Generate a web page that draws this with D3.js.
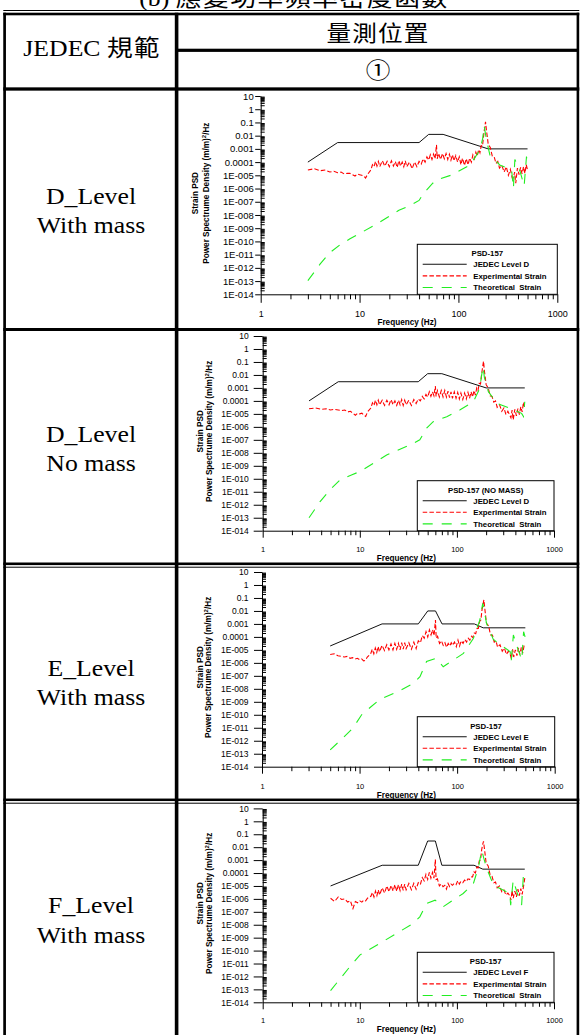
<!DOCTYPE html>
<html>
<head>
<meta charset="utf-8">
<script src="https://cdn.jsdelivr.net/npm/d3@7"></script>
<style>
  body { margin: 0; background: #fff; }
  svg { display: block; }
</style>
</head>
<body>
<script>
  // ---- data ----
  // frequencies (Hz) of the experimental strain traces
  var expFreq = [3,3.5,4,4.5,5,5.5,6,6.5,7,7.5,8,8.5,9,9.5,10,10.5,11,11.5,12,
    13,13.5,14,14.5,15,15.5,16,17,18,19,20,21,22,23,24,25,26,27,28,29,30,32,34,36,38,40,
    42,44,46,48,50,52,54,56,58,60,61,63,66,69,72,75,78,81,84,87,90,94,98,102,106,110,
    115,120,125,130,135,140,145,150,155,160,165,170,175,180,184,188,192,196,200,
    210,220,230,240,250,260,275,290,305,320,335,350,360,370,380,395,410,425,440,455,470,485,500];

  // log10 of strain PSD ((m/m)^2/Hz), one value per expFreq entry
  var expD = [-4.6,-4.5,-4.65,-4.6,-4.75,-4.7,-4.8,-4.75,-4.9,-4.85,-4.85,-4.95,-5.05,-4.9,-4.95,-5.0,-5.05,-5.2,-4.95,
    -4.6,-4.2,-4.35,-3.95,-4.3,-3.95,-4.35, -3.9,-4.3,-3.95,-4.35,-3.9,-4.3,-3.95,-4.4,-3.9,-4.3,-4.0,-4.35,-3.9,-4.35, -4.0,-4.5,-4.0,-4.35,-3.95,
    -4.15,-3.75,-4.0,-3.6,-3.85,-3.45,-3.8,-3.4,-3.75, -2.7,-3.75,-3.35, -3.8,-3.35,-3.75,-3.35,-3.8,-3.4,-3.85,-3.45,-3.9, -3.5,-4.0,-3.6,-4.2,-3.7,
    -4.25,-3.75,-4.2,-3.7,-4.0,-3.45,-3.75,-3.25,-3.55,-3.05,-3.3,-2.75,-2.8,-2.0, -1.4,-0.95,-1.6,-2.1,-2.65,
    -2.9,-3.55,-3.6,-4.1,-3.95,-4.45,-4.25,-4.75,-4.35,-5.0,-4.55,-5.2,-5.2,-4.75,-5.6,-4.45,-4.95,-4.4,-4.9,-4.35,-4.85,-4.2,-4.6];
  var expDnm = [-4.6,-4.55,-4.65,-4.6,-4.7,-4.65,-4.7,-4.75,-4.7,-4.85,-4.8,-4.95,-5.1,-4.95,-5.0,-4.95,-5.1,-5.2,-4.85,
    -4.55,-4.15,-4.35,-3.95,-4.3,-3.95,-4.3, -3.95,-4.35,-3.95,-4.3,-3.9,-4.3,-4.0,-4.35,-3.95,-4.3,-3.9,-4.35,-3.95,-4.3, -3.95,-4.35,-3.9,-4.2,-3.85,
    -4.0,-3.65,-3.85,-3.5,-3.7,-3.3,-3.65,-3.3,-3.6, -2.85,-3.65,-3.2, -3.7,-3.2,-3.7,-3.2,-3.7,-3.25,-3.75,-3.3,-3.8, -3.3,-3.8,-3.35,-3.85,-3.4,
    -3.9,-3.4,-3.85,-3.35,-3.8,-3.3,-3.7,-3.2,-3.55,-3.0,-3.2,-2.65,-2.7,-1.9, -1.4,-0.95,-1.7,-2.2,-2.75,
    -3.0,-3.6,-3.65,-4.1,-4.0,-4.5,-4.3,-4.8,-4.55,-5.05,-4.8,-5.1,-5.3,-4.7,-5.45,-4.65,-5.15,-4.6,-5.05,-4.45,-4.85,-4.1,-4.55];
  var expE = [null,null,null,null,-5.35,-5.3,-5.45,-5.5,-5.55,-5.5,-5.65,-5.6,-5.7,-5.65,-5.75,-5.7,-5.85,-5.8,-5.55,
    -5.3,-4.95,-5.3,-4.85,-5.2,-4.75,-5.15, -4.65,-5.05,-4.6,-5.0,-4.55,-5.0,-4.5,-4.95,-4.5,-5.0,-4.45,-4.95,-4.45,-4.9, -4.45,-4.95,-4.4,-4.9,-4.3,
    -4.45,-3.9,-4.1,-3.6,-4.0,-3.45,-3.85,-3.45,-3.9, -2.7,-4.1,-3.95, -4.5,-4.3,-4.65,-4.45,-4.8,-4.5,-4.7,-4.45,-4.65, -4.4,-4.75,-4.25,-4.7,-4.3,
    -4.5,-4.2,-4.4,-4.1,-4.25,-3.95,-4.05,-3.7,-3.75,-3.35,-3.35,-2.8,-2.7,-1.9, -1.5,-1.15,-1.8,-2.4,-2.95,
    -3.15,-3.85,-3.85,-4.4,-4.3,-4.8,-4.6,-5.1,-4.85,-5.35,-5.1,-5.35,-5.7,-4.95,-5.55,-5.0,-5.45,-4.85,-5.35,-4.8,-5.25,-4.7,-4.75];
  var expF = [null,null,null,null,-5.95,-6.2,-5.85,-6.05,-6.0,-6.25,-6.15,-6.75,-6.2,-6.3,-6.15,-6.25,-6.1,-6.15,-5.95,
    -5.8,-5.5,-5.85,-5.4,-5.75,-5.3,-5.7, -5.15,-5.55,-5.0,-5.45,-4.95,-5.4,-4.9,-5.4,-4.9,-5.35,-4.85,-5.35,-4.85,-5.3, -4.8,-5.3,-4.8,-5.25,-4.75,
    -4.9,-4.35,-4.6,-4.1,-4.5,-3.95,-4.4,-3.95,-4.4, -2.95,-4.5,-4.45, -5.0,-4.85,-5.05,-4.95,-5.25,-4.8,-5.05,-4.85,-4.95, -4.8,-4.9,-4.6,-4.85,-4.65,
    -4.75,-4.55,-4.65,-4.45,-4.5,-4.3,-4.3,-3.9,-4.0,-3.55,-3.6,-3.05,-3.0,-2.2, -1.8,-1.55,-2.1,-2.65,-3.25,
    -3.45,-4.15,-4.25,-4.75,-4.7,-5.15,-5.0,-5.45,-5.3,-5.7,-5.55,-5.75,-6.1,-5.35,-5.95,-5.4,-5.85,-5.25,-5.75,-5.2,-5.65,-5.05,-4.4];

  // theoretical strain: [Hz, log10 PSD]
  var theoD = [[3,-12.97],[3.5,-12.3],[4,-11.7],[5,-10.85],[6.3,-10.27],[8,-9.8],[10,-9.4],[14.3,-8.76],[18,-8.3],
    [25,-7.65],[32,-7.3],[40,-6.9],[44,-6.4],[55,-5.6],[60,-5.35],[85,-4.98],[131,-4.22],[165,-3.08],[176,-2.2],
    [182,-1.25],[188,-1.9],[200,-2.9],[208,-3.46],[262,-4.22],[345,-4.6],[360,-5.98],[372,-3.8],[420,-4.7],
    [462,-5.8],[488,-3.58],[500,-4.2]];
  var theoDnm = [[3,-13.0],[3.9,-11.76],[5,-10.8],[6.25,-10.1],[8.2,-9.7],[10,-9.45],[18.9,-8.17],[32.8,-7.4],
    [41.5,-7.0],[48.8,-6.1],[57,-5.6],[78.6,-5.22],[107,-4.7],[148,-4.06],[172,-3.03],[180,-2.0],[186,-1.36],
    [192,-2.2],[211,-3.29],[258,-4.18],[350,-4.57],[464,-4.96],[485,-5.2],[500,-4.06]];
  var theoE = [[5,-12.7],[6.3,-12.0],[8.6,-11.0],[10.5,-10.0],[13,-9.4],[16.2,-8.8],[25,-8.2],[35.6,-7.58],
    [41.6,-7.06],[48.6,-5.9],[60.6,-5.65],[72,-6.3],[116,-5.27],[147,-4.1],[171,-2.7],[183,-1.41],[190,-2.0],
    [200,-2.95],[235,-4.2],[350,-5.14],[358,-5.9],[377,-3.85],[418,-4.9],[460,-5.78],[480,-3.6],[497,-4.0]];
  var theoF = [[5,-13.09],[8,-11.2],[10,-10.35],[16,-9.45],[23.9,-8.67],[35.5,-7.9],[41.5,-7.39],[48.8,-6.35],
    [59.6,-6.1],[72.5,-6.6],[116,-5.58],[148,-4.8],[167,-3.52],[180,-2.23],[190,-2.9],[203,-3.64],[238,-4.94],
    [350,-5.58],[358,-6.48],[380,-4.55],[425,-5.71],[464,-6.48],[485,-4.03],[500,-4.42]];

  // JEDEC input levels: [Hz, PSD]
  var jedecD = [[3,1e-4],[6,3e-3],[40,3e-3],[50,1.25e-2],[70,1.25e-2],[200,1e-3],[500,1e-3]];
  var jedecE = [[5,2e-5],[17,1e-3],[40,1e-3],[50,1e-2],[60,1e-2],[70,1e-3],[150,1e-3],[185,5e-4],[500,5e-4]];
  var jedecF = [[5,1e-5],[17,4e-4],[40,4e-4],[50,3e-2],[60,3e-2],[70,4e-4],[150,4e-4],[185,2e-4],[500,2e-4]];

  var xMajor = [1, 10, 100, 1000];
  var xTickLabels = ["1", "10", "100", "1000"];
  var yMajor = [10,1,1e-1,1e-2,1e-3,1e-4,1e-5,1e-6,1e-7,1e-8,1e-9,1e-10,1e-11,1e-12,1e-13,1e-14];
  var yTickLabels = ["10","1","0.1","0.01","0.001","0.0001","1E-005","1E-006","1E-007","1E-008",
    "1E-009","1E-010","1E-011","1E-012","1E-013","1E-014"];

  var rowLabels = [["D_Level","With mass"],["D_Level","No mass"],["E_Level","With mass"],["F_Level","With mass"]];
  var legendTitles = ["PSD-157", "PSD-157 (NO MASS)", "PSD-157", "PSD-157"];
  var levelNames = ["JEDEC Level D", "JEDEC Level D", "JEDEC Level E", "JEDEC Level F"];

  // ---- layout ----
  var W = 580, H = 1035;
  var SANS = "'Liberation Sans', Arial, sans-serif";
  var SERIF = "'Liberation Serif', 'Times New Roman', serif";
  var CJK = "'Noto Sans CJK TC', 'Noto Sans CJK SC', sans-serif";
  var RED = "#ff0000", GREEN = "#22ee22";
  var RED_DASH = "4.5,2.2", GREEN_DASH = "10,9";

  var panels = [
    { x0: 260.7, x1: 557.3, y0: 96,    y1: 294.3,  exp: expD,   theo: theoD,   jedec: jedecD,
      yTick: 5.5, yPad: 1.5, yFont: 9.5, xFont: 9,   xTick: 8.5, xMin: 5,   xLab: 22.5, xTitle: 30.8, yT: [-63, -52] },
    { x0: 262.7, x1: 554,   y0: 336,   y1: 530.7,  exp: expDnm, theo: theoDnm, jedec: jedecD,
      yTick: 9,   yPad: 5,   yFont: 8.5, xFont: 7.5, xTick: 7,   xMin: 4.5, xLab: 21,   xTitle: 29.8, yT: [-60, -51] },
    { x0: 262,   x1: 554.7, y0: 572,   y1: 766.7,  exp: expE,   theo: theoE,   jedec: jedecE,
      yTick: 8,   yPad: 5.5, yFont: 8.5, xFont: 7.5, xTick: 7,   xMin: 4.5, xLab: 22,   xTitle: 30.8, yT: [-59.5, -51] },
    { x0: 262.7, x1: 554,   y0: 808.4, y1: 1002.3, exp: expF,   theo: theoF,   jedec: jedecF,
      yTick: 9,   yPad: 5,   yFont: 8.5, xFont: 7.5, xTick: 7,   xMin: 4.5, xLab: 21,   xTitle: 29.8, yT: [-60, -51] }
  ];
  var rowBaselines = [[204, 233], [441.5, 470.5], [676, 705], [913, 943]];

  var svg = d3.select("body").append("svg")
    .attr("width", W)
    .attr("height", H);

  svg.append("rect").attr("width", W).attr("height", H).attr("fill", "#fff");

  /*
    table rules
  */
  function hline(y, x0, x1, w) {
    svg.append("rect").attr("x", x0).attr("y", y - w / 2)
      .attr("width", x1 - x0).attr("height", w).attr("fill", "#000");
  }
  function vline(x, y0, y1, w) {
    svg.append("rect").attr("x", x - w / 2).attr("y", y0)
      .attr("width", w).attr("height", y1 - y0).attr("fill", "#000");
  }
  hline(10.5, 3.3, 579.3, 1);
  hline(14, 3.3, 579.3, 2.6);
  vline(4.6, 12.7, H, 2.7);
  vline(577.9, 12.7, H, 2.6);
  vline(176.6, 12.7, H, 3.6);
  hline(50.3, 176.6, 577.9, 3.2);
  hline(89, 3.3, 579.3, 3.3);
  hline(329.5, 3.3, 579.3, 3);
  hline(563.8, 3.3, 579.3, 2.6);
  hline(567.2, 3.3, 579.3, 1);
  hline(799.8, 3.3, 579.3, 2.5);
  hline(803.2, 3.3, 579.3, 1);

  /*
    table text, slightly widened like the original
  */
  function cellText(cx, y, size) {
    return svg.append("text")
      .attr("transform", "translate(" + cx + "," + y + ") scale(1.12,1)")
      .attr("text-anchor", "middle")
      .attr("font-size", size)
      .attr("fill", "#000");
  }

  var title = cellText(294, 6, 23);
  title.append("tspan").attr("font-family", SERIF).text("(b) ");
  title.append("tspan").attr("font-family", CJK).attr("letter-spacing", 1.4).text("應變功率頻率密度函數");

  var head = cellText(92, 56, 23);
  head.append("tspan").attr("font-family", SERIF).text("JEDEC ");
  head.append("tspan").attr("font-family", CJK).attr("letter-spacing", 1).text("規範");

  cellText(378, 41, 22).attr("font-family", CJK).attr("letter-spacing", 1).text("量測位置");
  cellText(378, 78, 22).attr("font-family", CJK).text("①");

  rowLabels.forEach(function(r, i) {
    cellText(91, rowBaselines[i][0], 23).attr("font-family", SERIF).text(r[0]);
    cellText(91, rowBaselines[i][1], 23).attr("font-family", SERIF).text(r[1]);
  });

  /*
    one PSD chart per row
  */
  function drawPanel(p, i) {
    var x = d3.scaleLog().domain([1, 1000]).range([p.x0, p.x1]);
    var y = d3.scaleLog().domain([1e-14, 10]).range([p.y1, p.y0]);
    var g = svg.append("g");

    var yMinor = [], xMinor = [];
    yMajor.forEach(function(v) { if (v < 10) for (var m = 2; m < 10; m++) yMinor.push(v * m); });
    xMajor.forEach(function(v) { if (v < 1000) for (var m = 2; m < 10; m++) xMinor.push(v * m); });

    // minor ticks inside the y axis
    g.append("g")
      .attr("transform", "translate(" + p.x0 + ",0)")
      .call(d3.axisRight(y).tickValues(yMinor).tickSize(4).tickFormat(""))
      .call(function(s) { s.select(".domain").remove(); });

    var ya = g.append("g")
      .attr("transform", "translate(" + p.x0 + ",0)")
      .call(d3.axisLeft(y).tickValues(yMajor).tickSize(p.yTick).tickSizeOuter(0).tickPadding(p.yPad)
        .tickFormat(function(d, k) { return yTickLabels[k]; }));
    ya.attr("font-family", SANS).attr("font-size", p.yFont);

    g.append("g")
      .attr("transform", "translate(0," + p.y1 + ")")
      .call(d3.axisBottom(x).tickValues(xMinor).tickSize(p.xMin).tickFormat(""))
      .call(function(s) { s.select(".domain").remove(); });

    var xa = g.append("g")
      .attr("transform", "translate(0," + p.y1 + ")")
      .call(d3.axisBottom(x).tickValues(xMajor).tickSize(p.xTick).tickSizeOuter(0)
        .tickFormat(function(d, k) { return xTickLabels[k]; }));
    xa.attr("font-family", SANS).attr("font-size", p.xFont);
    xa.selectAll("text").attr("dy", null).attr("y", p.xLab);

    // axis titles
    g.append("text")
      .attr("x", (p.x0 + p.x1) / 2 - 2).attr("y", p.y1 + p.xTitle)
      .attr("text-anchor", "middle").attr("font-family", SANS).attr("font-weight", "bold")
      .attr("font-size", 8.2).text("Frequency (Hz)");

    var cy = (p.y0 + p.y1) / 2 - 2;
    g.append("text")
      .attr("transform", "translate(" + (p.x0 + p.yT[0]) + "," + cy + ") rotate(-90)")
      .attr("text-anchor", "middle").attr("font-family", SANS).attr("font-weight", "bold")
      .attr("font-size", 8.2).text("Strain PSD");
    var t2 = g.append("text")
      .attr("transform", "translate(" + (p.x0 + p.yT[1]) + "," + cy + ") rotate(-90)")
      .attr("text-anchor", "middle").attr("font-family", SANS).attr("font-weight", "bold")
      .attr("font-size", 8.2);
    t2.append("tspan").text("Power Spectrume Density (m/m)");
    t2.append("tspan").attr("dy", -3).attr("font-size", 6).text("2");
    t2.append("tspan").attr("dy", 3).text("/Hz");

    // curves
    var logLine = d3.line()
      .defined(function(d) { return d[1] != null; })
      .x(function(d) { return x(d[0]); })
      .y(function(d) { return y(Math.pow(10, d[1])); });
    var linLine = d3.line()
      .x(function(d) { return x(d[0]); })
      .y(function(d) { return y(d[1]); });

    g.append("path").datum(p.jedec).attr("d", linLine)
      .attr("fill", "none").attr("stroke", "#111").attr("stroke-width", 1);

    var expPts = expFreq.map(function(f, j) { return [f, p.exp[j]]; });
    g.append("path").datum(expPts).attr("d", logLine)
      .attr("fill", "none").attr("stroke", RED).attr("stroke-width", 1.1)
      .attr("stroke-dasharray", RED_DASH);

    g.append("path").datum(p.theo).attr("d", logLine)
      .attr("fill", "none").attr("stroke", GREEN).attr("stroke-width", 1.1)
      .attr("stroke-dasharray", GREEN_DASH);

    // legend
    var lx = 417.3, lw = p.x1 - lx, lt = p.y1 - 50;
    var lg = g.append("g");
    lg.append("rect").attr("x", lx).attr("y", lt).attr("width", lw).attr("height", 50)
      .attr("fill", "#fff").attr("stroke", "#000").attr("stroke-width", 1);
    lg.append("text").attr("x", lx + lw / 2).attr("y", lt + 11.8)
      .attr("text-anchor", "middle").attr("font-family", SANS).attr("font-weight", "bold")
      .attr("font-size", 7.8).text(legendTitles[i]);

    var items = [
      { label: levelNames[i], color: "#111", dash: null },
      { label: "Experimental Strain", color: RED, dash: RED_DASH },
      { label: "Theoretical  Strain", color: GREEN, dash: GREEN_DASH }
    ];
    items.forEach(function(it, k) {
      var ry = lt + 20 + k * 11.6;
      lg.append("line").attr("x1", lx + 5.4).attr("x2", lx + 49.4).attr("y1", ry).attr("y2", ry)
        .attr("stroke", it.color).attr("stroke-width", 1.1)
        .attr("stroke-dasharray", it.dash);
      lg.append("text").attr("x", lx + 56).attr("y", ry + 2.8)
        .attr("font-family", SANS).attr("font-weight", "bold").attr("font-size", 7.8)
        .style("white-space", "pre").text(it.label);
    });
  }

  panels.forEach(drawPanel);
</script>
</body>
</html>
